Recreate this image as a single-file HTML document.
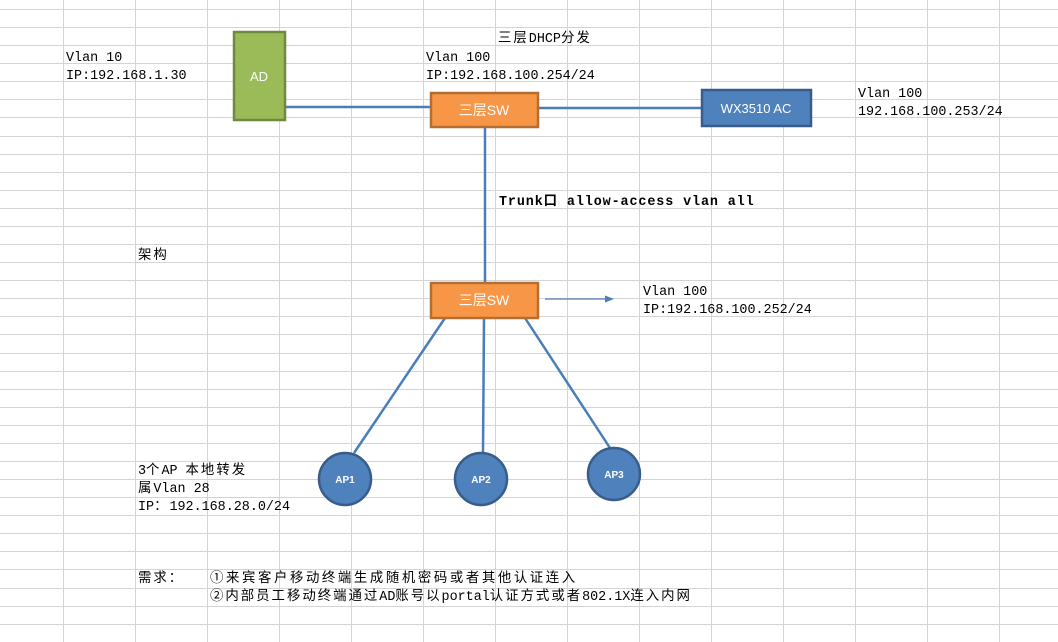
<!DOCTYPE html>
<html><head><meta charset="utf-8"><style>
html,body{margin:0;padding:0;background:#fff;}
svg{display:block}
.t{font-family:"Liberation Mono","Noto Sans CJK SC",monospace;font-size:13.4px;fill:#000}
.c{letter-spacing:2px}
.w{font-family:"Liberation Sans","Noto Sans CJK SC",sans-serif;fill:#fff}
</style></head><body>
<svg width="1058" height="642" viewBox="0 0 1058 642" xmlns="http://www.w3.org/2000/svg">
<g stroke="#d4d4d4" stroke-width="1" shape-rendering="crispEdges">
<line x1="63.5" y1="0" x2="63.5" y2="642"/><line x1="135.5" y1="0" x2="135.5" y2="642"/>
<line x1="207.5" y1="0" x2="207.5" y2="642"/><line x1="279.5" y1="0" x2="279.5" y2="642"/>
<line x1="351.5" y1="0" x2="351.5" y2="642"/><line x1="423.5" y1="0" x2="423.5" y2="642"/>
<line x1="495.5" y1="0" x2="495.5" y2="642"/><line x1="567.5" y1="0" x2="567.5" y2="642"/>
<line x1="639.5" y1="0" x2="639.5" y2="642"/><line x1="711.5" y1="0" x2="711.5" y2="642"/>
<line x1="783.5" y1="0" x2="783.5" y2="642"/><line x1="855.5" y1="0" x2="855.5" y2="642"/>
<line x1="927.5" y1="0" x2="927.5" y2="642"/><line x1="999.5" y1="0" x2="999.5" y2="642"/>
</g>
<g stroke="#d4d4d4" stroke-width="1" shape-rendering="crispEdges" id="rows"></g>
<script>
var g=document.getElementById('rows');
for(var k=0;k<36;k++){var y=Math.round(9+18.08*k)+0.5;var l=document.createElementNS('http://www.w3.org/2000/svg','line');l.setAttribute('x1',0);l.setAttribute('x2',1058);l.setAttribute('y1',y);l.setAttribute('y2',y);g.appendChild(l);}
</script>
<g stroke="#4a7ebb" stroke-width="2.5" fill="none">
<line x1="285" y1="107" x2="432" y2="107"/>
<line x1="538" y1="108" x2="701" y2="108"/>
<line x1="485" y1="127" x2="485" y2="282"/>
<line x1="445" y1="318" x2="354" y2="453"/>
<line x1="484" y1="318" x2="483" y2="452"/>
<line x1="525" y1="318" x2="610" y2="448"/>
</g>
<line x1="545" y1="299" x2="608" y2="299" stroke="#4a7ebb" stroke-width="1.2"/>
<polygon points="614,299 605,295.5 605,302.5" fill="#4a7ebb"/>
<rect x="234" y="32" width="51" height="88" fill="#9bbb59" stroke="#71893f" stroke-width="2.5"/>
<text x="259" y="81" class="w" font-size="13" text-anchor="middle">AD</text>
<rect x="431" y="93" width="107" height="34" fill="#f79646" stroke="#b66d31" stroke-width="2.5"/>
<text x="484" y="115" class="w" font-size="14" text-anchor="middle">三层SW</text>
<rect x="702" y="90" width="109" height="36" fill="#4f81bd" stroke="#385d8a" stroke-width="2.5"/>
<text x="756" y="113" class="w" font-size="13" text-anchor="middle">WX3510 AC</text>
<rect x="431" y="283" width="107" height="35" fill="#f79646" stroke="#b66d31" stroke-width="2.5"/>
<text x="484" y="305" class="w" font-size="14" text-anchor="middle">三层SW</text>
<g fill="#4f81bd" stroke="#385d8a" stroke-width="2.5">
<circle cx="345" cy="479" r="26"/><circle cx="481" cy="479" r="26"/><circle cx="614" cy="474" r="26"/>
</g>
<text x="345" y="483" class="w" font-size="10" font-weight="bold" text-anchor="middle">AP1</text>
<text x="481" y="483" class="w" font-size="10" font-weight="bold" text-anchor="middle">AP2</text>
<text x="614" y="478" class="w" font-size="10" font-weight="bold" text-anchor="middle">AP3</text>
<text x="66" y="61" class="t">Vlan 10</text>
<text x="66" y="79" class="t">IP:192.168.1.30</text>
<text x="498" y="42" class="t"><tspan class="c">三层</tspan>DHCP<tspan class="c">分发</tspan></text>
<text x="426" y="61" class="t">Vlan 100</text>
<text x="426" y="79" class="t">IP:192.168.100.254/24</text>
<text x="858" y="97" class="t">Vlan 100</text>
<text x="858" y="115" class="t">192.168.100.253/24</text>
<text x="499" y="205" class="t" font-weight="bold" letter-spacing="0.9">Trunk口 allow-access vlan all</text>
<text x="138" y="259" class="t c">架构</text>
<text x="643" y="295" class="t">Vlan 100</text>
<text x="643" y="313" class="t">IP:192.168.100.252/24</text>
<text x="138" y="474" class="t">3<tspan class="c">个</tspan>AP <tspan class="c">本地转发</tspan></text>
<text x="138" y="492" class="t"><tspan class="c">属</tspan>Vlan 28</text>
<text x="138" y="510" class="t">IP<tspan class="c">：</tspan>192.168.28.0/24</text>
<text x="138" y="582" class="t c">需求：</text>
<text x="210" y="582" class="t" letter-spacing="2.6">①来宾客户移动终端生成随机密码或者其他认证连入</text>
<text x="210" y="600" class="t"><tspan class="c">②内部员工移动终端通过</tspan>AD<tspan class="c">账号以</tspan>portal<tspan class="c">认证方式或者</tspan>802.1X<tspan class="c">连入内网</tspan></text>
</svg>
</body></html>
